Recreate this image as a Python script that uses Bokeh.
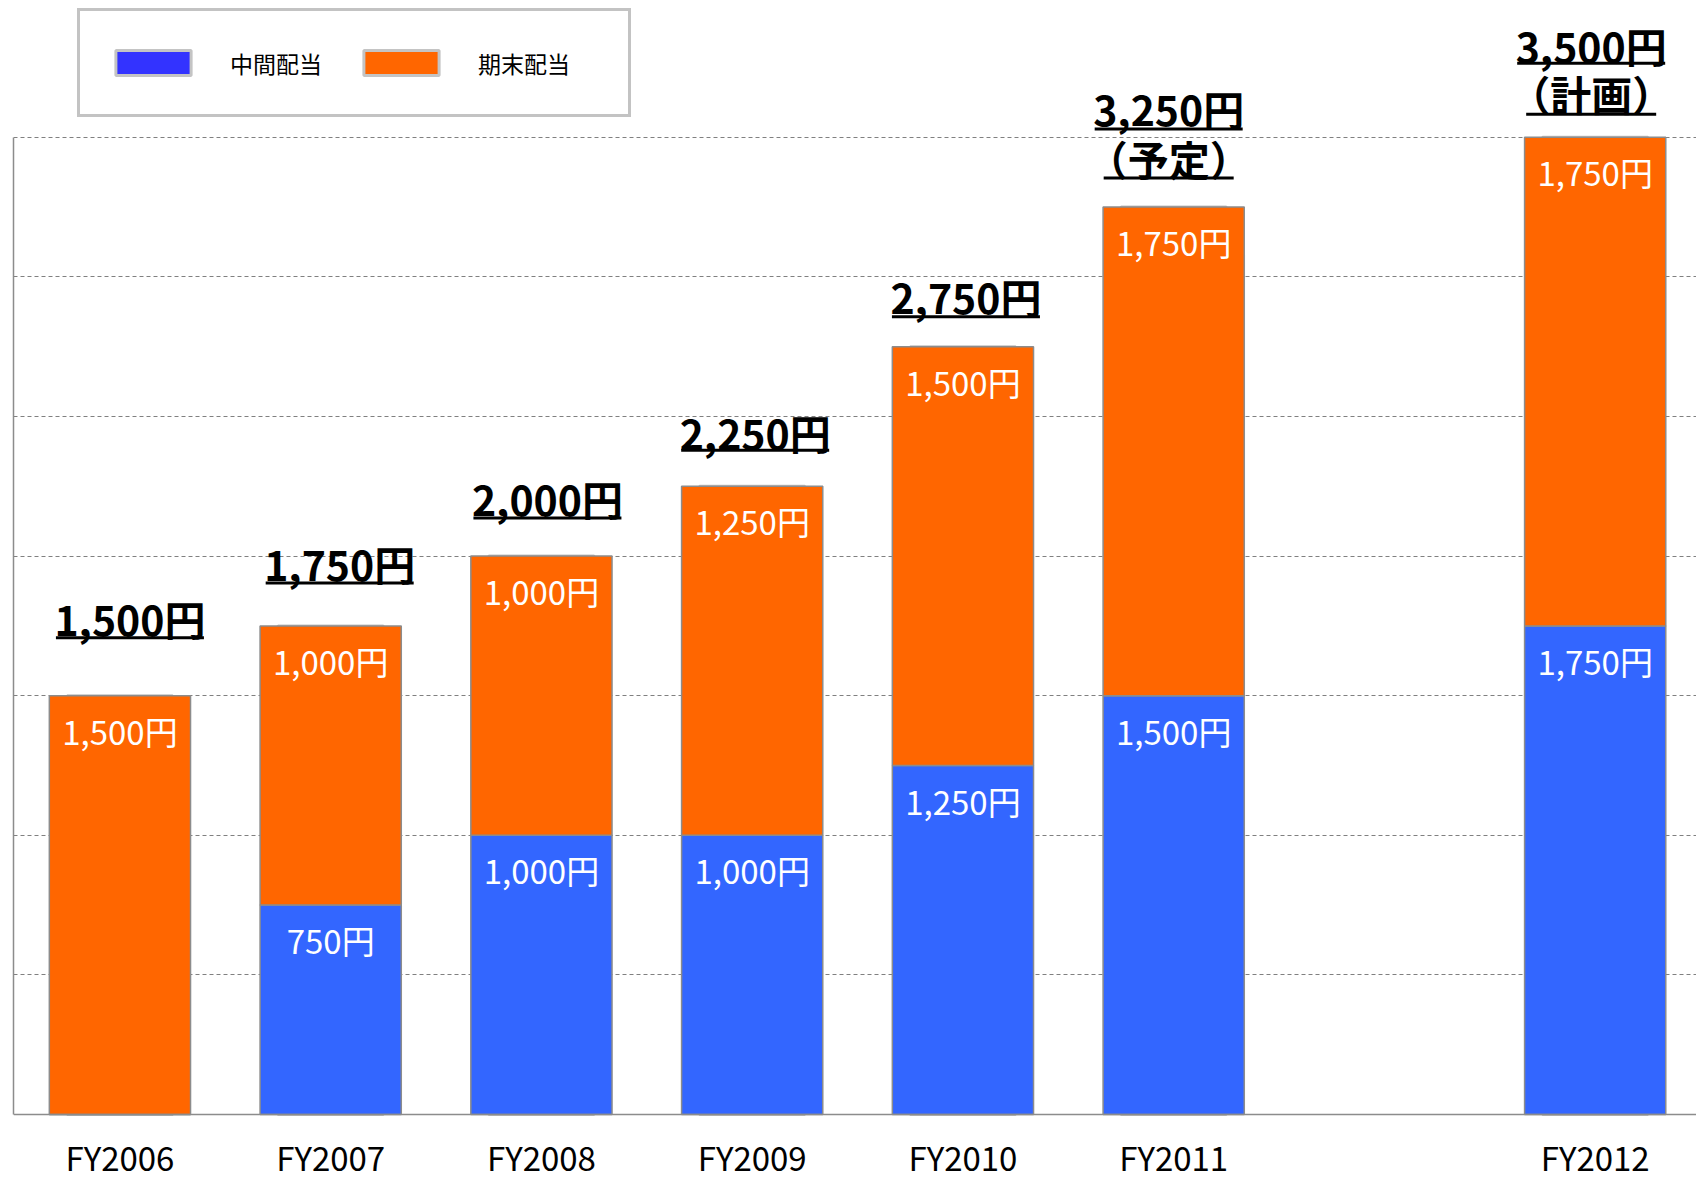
from bokeh.plotting import figure
from bokeh.models import Range1d, FixedTicker, ColumnDataSource, Span, Legend, LegendItem
from bokeh.core.properties import value
from bokeh.embed import file_html
from bokeh.resources import INLINE

# ---------------- data ----------------
fiscal_years = ["FY2006", "FY2007", "FY2008", "FY2009", "FY2010", "FY2011", "FY2012"]
slot = [0, 1, 2, 3, 4, 5, 7]          # category slots (slot 6 left empty)
interim = [0, 750, 1000, 1000, 1250, 1500, 1750]      # 中間配当
final = [1500, 1000, 1000, 1250, 1500, 1750, 1750]    # 期末配当
notes = ["", "", "", "", "", "（予定）", "（計画）"]
series_names = ["中間配当", "期末配当"]
grid_values = [500, 1000, 1500, 2000, 2500, 3000, 3500]

# ---------------- styling ----------------
FONT = "Noto Sans CJK JP"
BLUE = "#3366FF"
LEGEND_BLUE = "#3333FF"
ORANGE = "#FF6600"
EDGE = "#8c8c8c"
# label placement (screen px above bar top) and horizontal nudges
top_lift = [78, 63, 58, 54, 51, 99, 92]
top_dx = [10, 9, 6, 3, 3, -5, -4]
top_uline = [58, 43, 38, 36, 30, 78, 74]
note_lift = [0, 0, 0, 0, 0, 49, 44]
note_uline = [0, 0, 0, 0, 0, 29, 23]

W, H = 1696, 1182
LEFT = 13
BASE_FROM_BOTTOM = 68
px_per_unit = 139.6 / 500.0
units_per_px = 1.0 / px_per_unit
y_start = -BASE_FROM_BOTTOM * units_per_px
y_end = y_start + H * units_per_px
slot_px = 210.75
x_start = -0.505
x_end = x_start + (W - LEFT) / slot_px

total = [a + b for a, b in zip(interim, final)]

p = figure(width=W, height=H, x_range=Range1d(x_start, x_end), y_range=Range1d(y_start, y_end),
           output_backend="svg", toolbar_location=None, x_axis_location=None,
           min_border_left=LEFT, min_border_right=0, min_border_top=0, min_border_bottom=0)
p.outline_line_color = None
p.background_fill_color = "white"
p.border_fill_color = "white"
p.xgrid.visible = False

# left axis line only (0..3500)
yax = p.yaxis[0]
yax.ticker = FixedTicker(ticks=[])
yax.bounds = (0, 3500)
yax.major_tick_out = 0
yax.major_tick_in = 0
yax.minor_tick_out = 0
yax.minor_tick_in = 0
yax.major_label_standoff = 0
yax.major_label_text_font_size = "0px"
yax.axis_line_color = EDGE
yax.axis_line_width = 1.5

g = p.ygrid[0]
g.ticker = FixedTicker(ticks=grid_values)
g.grid_line_color = "#808080"
g.grid_line_dash = "4 3"
g.grid_line_width = 1.2

p.add_layout(Span(location=0, dimension="width", line_color=EDGE, line_width=1.5))

src = ColumnDataSource(dict(
    x=slot, interim=interim, final=final, total=total, fy=fiscal_years,
    final_lbl=[f"{v:,}円" for v in final],
    total_lbl=[f"{v:,}円" for v in total],
    top_y=total,
    top_yoff=[-v for v in top_lift],
    top_xoff=top_dx,
))

# legend-swatch renderers (hidden underneath the real bars; they carry the legend colours)
r1 = p.vbar(x="x", width=0.5, bottom=0, top="interim", source=src,
            fill_color=LEGEND_BLUE, line_color="#c4c4c4", line_width=3)
r2 = p.vbar(x="x", width=0.5, bottom="interim", top="total", source=src,
            fill_color=ORANGE, line_color="#c4c4c4", line_width=3)

p.vbar(x="x", width=0.67, bottom=0, top="interim", source=src,
       fill_color=BLUE, line_color=EDGE, line_width=1.5)
p.vbar(x="x", width=0.67, bottom="interim", top="total", source=src,
       fill_color=ORANGE, line_color=EDGE, line_width=1.5)

# in-bar labels
p.text(x="x", y="total", text="final_lbl", source=src, text_color="white",
       text_font=value(FONT), text_font_size="33px", text_align="center",
       text_baseline="middle", y_offset=35)
bi = [i for i, v in enumerate(interim) if v > 0]
src_b = ColumnDataSource(dict(x=[slot[i] for i in bi], y=[interim[i] for i in bi],
                              t=[f"{interim[i]:,}円" for i in bi]))
p.text(x="x", y="y", text="t", source=src_b, text_color="white",
       text_font=value(FONT), text_font_size="33px", text_align="center",
       text_baseline="middle", y_offset=35)

# total labels (bold + underline)
p.text(x="x", y="top_y", text="total_lbl", source=src, text_color="black",
       text_font=value(FONT), text_font_size="41px", text_font_style="bold",
       text_align="center", text_baseline="middle", y_offset="top_yoff", x_offset="top_xoff")
p.rect(x=[s + dx / slot_px for s, dx in zip(slot, top_dx)],
       y=[t + u * units_per_px for t, u in zip(total, top_uline)],
       width=148, height=3, width_units="screen", height_units="screen",
       fill_color="black", line_color=None)

ni = [i for i, n in enumerate(notes) if n]
src_n = ColumnDataSource(dict(x=[slot[i] for i in ni], y=[total[i] for i in ni],
                              t=[notes[i] for i in ni], yoff=[-note_lift[i] for i in ni],
                              xoff=[top_dx[i] for i in ni]))
p.text(x="x", y="y", text="t", source=src_n, text_color="black",
       text_font=value(FONT), text_font_size="41px", text_font_style="bold",
       text_align="center", text_baseline="middle", y_offset="yoff", x_offset="xoff")
p.rect(x=[slot[i] + top_dx[i] / slot_px for i in ni],
       y=[total[i] + note_uline[i] * units_per_px for i in ni],
       width=130, height=3, width_units="screen", height_units="screen",
       fill_color="black", line_color=None)

# category labels
src_c = ColumnDataSource(dict(x=slot, y=[0] * len(slot), t=fiscal_years))
p.text(x="x", y="y", text="t", source=src_c, text_color="black",
       text_font=value(FONT), text_font_size="33px", text_align="center",
       text_baseline="middle", y_offset=42)

legend = Legend(items=[LegendItem(label=series_names[0], renderers=[r1]),
                       LegendItem(label=series_names[1], renderers=[r2])],
                orientation="horizontal", location=(64, H - 117),
                glyph_width=94, glyph_height=31, label_standoff=30, spacing=0,
                padding=26, label_width=124, label_height=51, label_text_font=FONT,
                label_text_font_size="23px", label_text_color="black",
                border_line_color="#888888", border_line_width=3,
                background_fill_color="white", background_fill_alpha=1.0, margin=0)
p.add_layout(legend)

open("out.html", "w").write(file_html(p, INLINE))
